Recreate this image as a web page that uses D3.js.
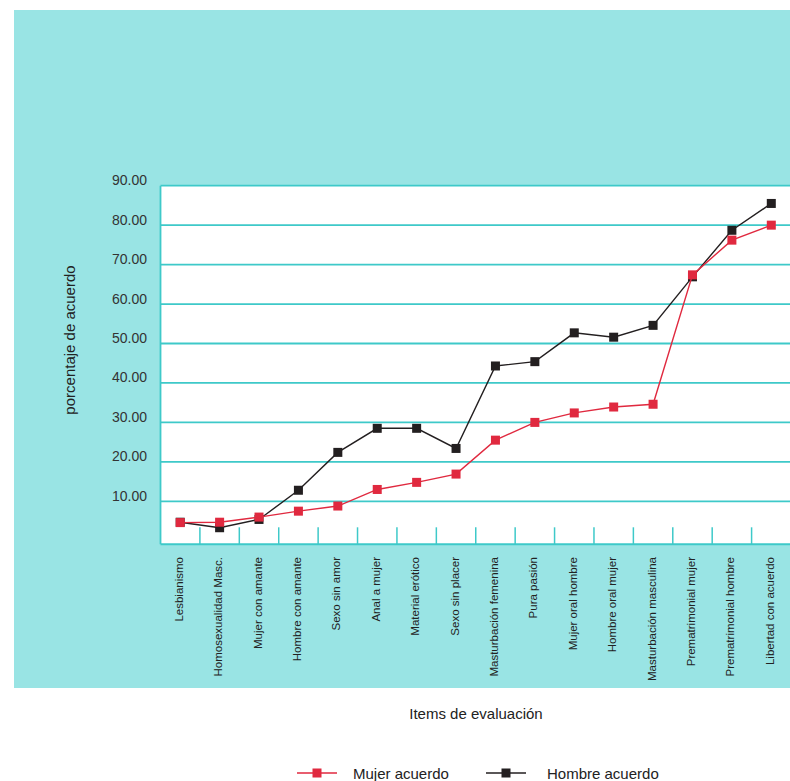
<!DOCTYPE html>
<html>
<head>
<meta charset="utf-8">
<script src="https://cdn.jsdelivr.net/npm/d3@7"></script>
<style>
  html, body { margin: 0; padding: 0; background: #fff; }
  svg { display: block; font-family: "Liberation Sans", Arial, sans-serif; }
</style>
</head>
<body>
<svg id="chart" width="790" height="781"></svg>
<script>
// Items evaluated, in display order
const categories = [
  "Lesbianismo", "Homosexualidad Masc.", "Mujer con amante", "Hombre con amante",
  "Sexo sin amor", "Anal a mujer", "Material erótico", "Sexo sin placer",
  "Masturbación femenina", "Pura pasión", "Mujer oral hombre", "Hombre oral mujer",
  "Masturbación masculina", "Prematrimonial mujer", "Prematrimonial hombre", "Libertad con acuerdo"
];

// Percentage of agreement by sex
const mujerAcuerdo = [4.6, 4.7, 6.0, 7.5, 8.8, 13.0, 14.8, 16.9, 25.5, 30.0, 32.4, 33.9, 34.6, 67.4, 76.2, 80.0];
const hombreAcuerdo = [4.7, 3.3, 5.4, 12.8, 22.4, 28.5, 28.5, 23.4, 44.3, 45.4, 52.7, 51.6, 54.6, 66.9, 78.7, 85.5];

const yTicks = [10, 20, 30, 40, 50, 60, 70, 80, 90];

const seriesNames = ["Mujer acuerdo", "Hombre acuerdo"];
const seriesColors = ["#e0293f", "#231f20"];

const svg = d3.select("#chart");

// Panel background
svg.append("rect")
  .attr("x", 14).attr("y", 10)
  .attr("width", 776).attr("height", 678)
  .attr("fill", "#99e4e4");

const plot = { left: 160.5, right: 791, top: 185.7, bottom: 544.3 };

const x = d3.scaleBand()
  .domain(categories)
  .range([plot.left, plot.right])
  .padding(0);

// Zero sits a little above the bottom edge of the plot area
const y = d3.scaleLinear()
  .domain([0, 90])
  .range([540.75, plot.top]);

// Plot area
svg.append("rect")
  .attr("x", plot.left).attr("y", plot.top)
  .attr("width", plot.right - plot.left).attr("height", plot.bottom - plot.top)
  .attr("fill", "#ffffff");

const gridColor = "#3ec9c9";

// Horizontal gridlines
svg.append("g")
  .selectAll("line")
  .data(yTicks)
  .join("line")
  .attr("x1", plot.left).attr("x2", plot.right)
  .attr("y1", d => y(d)).attr("y2", d => y(d))
  .attr("stroke", gridColor)
  .attr("stroke-width", 1.8);

// Left and bottom axis lines
svg.append("line")
  .attr("x1", plot.left).attr("x2", plot.left)
  .attr("y1", plot.top).attr("y2", plot.bottom)
  .attr("stroke", gridColor).attr("stroke-width", 1.8);
svg.append("line")
  .attr("x1", plot.left).attr("x2", plot.right)
  .attr("y1", plot.bottom).attr("y2", plot.bottom)
  .attr("stroke", gridColor).attr("stroke-width", 2);

// Category separators at the bottom
svg.append("g")
  .selectAll("line")
  .data(categories.slice(1))
  .join("line")
  .attr("x1", d => x(d)).attr("x2", d => x(d))
  .attr("y1", plot.bottom - 17).attr("y2", plot.bottom)
  .attr("stroke", gridColor)
  .attr("stroke-width", 1.5);

// Y tick labels
svg.append("g")
  .selectAll("text")
  .data(yTicks)
  .join("text")
  .attr("x", 147)
  .attr("y", d => y(d) - 0.5)
  .attr("text-anchor", "end")
  .attr("font-size", 14)
  .attr("fill", "#333")
  .text(d => d3.format(".2f")(d));

// Category labels, rotated
svg.append("g")
  .selectAll("text")
  .data(categories)
  .join("text")
  .attr("transform", d => `translate(${x(d) + x.bandwidth() / 2 + 2.5},557) rotate(-90)`)
  .attr("text-anchor", "end")
  .attr("font-size", 11.5)
  .attr("fill", "#222")
  .text(d => d);

// Axis titles
svg.append("text")
  .attr("transform", "translate(75,340) rotate(-90)")
  .attr("text-anchor", "middle")
  .attr("font-size", 15)
  .attr("fill", "#222")
  .text("porcentaje de acuerdo");

svg.append("text")
  .attr("x", 476).attr("y", 719)
  .attr("text-anchor", "middle")
  .attr("font-size", 15)
  .attr("fill", "#222")
  .text("Items de evaluación");

// Series lines and square markers
const series = [mujerAcuerdo, hombreAcuerdo];
const cx = (d, i) => x(categories[i]) + x.bandwidth() / 2;
const line = d3.line().x(cx).y(d => y(d));
const markerSize = 9;

[1, 0].forEach(s => {
  const g = svg.append("g");
  g.append("path")
    .datum(series[s])
    .attr("d", line)
    .attr("fill", "none")
    .attr("stroke", seriesColors[s])
    .attr("stroke-width", 1.4);
  g.selectAll("rect")
    .data(series[s])
    .join("rect")
    .attr("x", (d, i) => cx(d, i) - markerSize / 2)
    .attr("y", d => y(d) - markerSize / 2)
    .attr("width", markerSize).attr("height", markerSize)
    .attr("fill", seriesColors[s]);
});

// Legend
const legendItems = [
  { name: seriesNames[0], color: seriesColors[0], x1: 297, text: 353 },
  { name: seriesNames[1], color: seriesColors[1], x1: 486, text: 547 }
];
const lg = svg.append("g");
legendItems.forEach(it => {
  lg.append("line")
    .attr("x1", it.x1).attr("x2", it.x1 + 40)
    .attr("y1", 773).attr("y2", 773)
    .attr("stroke", it.color).attr("stroke-width", 1.4);
  lg.append("rect")
    .attr("x", it.x1 + 20 - 4.5).attr("y", 773 - 4.5)
    .attr("width", 9).attr("height", 9)
    .attr("fill", it.color);
  lg.append("text")
    .attr("x", it.text).attr("y", 778.5)
    .attr("font-size", 15)
    .attr("fill", "#222")
    .text(it.name);
});
</script>
</body>
</html>
